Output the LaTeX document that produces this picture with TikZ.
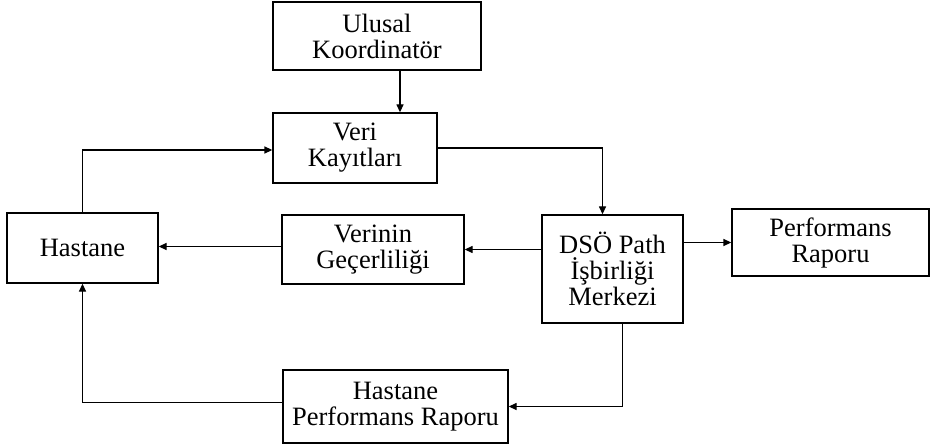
\documentclass[tikz,border=0pt]{standalone}
\usepackage{fontspec}
\setmainfont{Liberation Serif}
\usepackage{tikz}
\usetikzlibrary{arrows.meta,calc,positioning}
\tikzset{
  box/.style={rectangle, draw, align=center, inner sep=0pt, font=\fontsize{26.5}{26}\selectfont},
  arr/.style={-{Triangle[length=8pt,width=7pt]}},
  every picture/.style={line cap=butt, line join=miter}
}

\begin{document}
\begin{tikzpicture}[x=1pt, y=-1pt, line width=1.3pt]
  \useasboundingbox (0,0) rectangle (931,446);
  \node[box, minimum width=208pt, minimum height=68pt]  (ulusal)  at (377,36)    {Ulusal\\Koordinatör};
  \node[box, minimum width=164pt, minimum height=70pt]  (veri)    at (355,148)   {Veri\\Kayıtları};
  \node[box, minimum width=151pt, minimum height=70pt]  (hastane) at (82.5,248)  {Hastane};
  \node[box, minimum width=182pt, minimum height=69pt]  (gecer)   at (373,249.5) {Verinin\\Geçerliliği};
  \node[box, minimum width=141pt, minimum height=108pt] (dso)     at (612.5,269) {DSÖ Path\\İşbirliği\\Merkezi};
  \node[box, minimum width=197pt, minimum height=67pt]  (perf)    at (830.5,242.5) {Performans\\Raporu};
  \node[box, minimum width=225pt, minimum height=73pt]  (hpr)     at (395.5,406.5) {Hastane\\Performans Raporu};

  \draw[arr] ([xshift=23pt]ulusal.south) -- ([xshift=23pt]ulusal.south |- veri.north);
  \draw[arr] (hastane.north) |- ([yshift=-2pt]veri.west);
  \draw[arr] (veri.east) -| ([xshift=-10pt]dso.north);
  \draw[arr] (dso.west |- gecer.east) -- (gecer.east);
  \draw[arr] ([yshift=3pt]gecer.west) -- ([yshift=3pt]gecer.west -| hastane.east);
  \draw[arr] (dso.east |- perf.west) -- (perf.west);
  % back to the hospital
  \draw[arr] ([xshift=10pt]dso.south) |- (hpr.east);
  \draw[arr] ([yshift=4pt]hpr.west) -| (hastane.south);
\end{tikzpicture}
\end{document}
